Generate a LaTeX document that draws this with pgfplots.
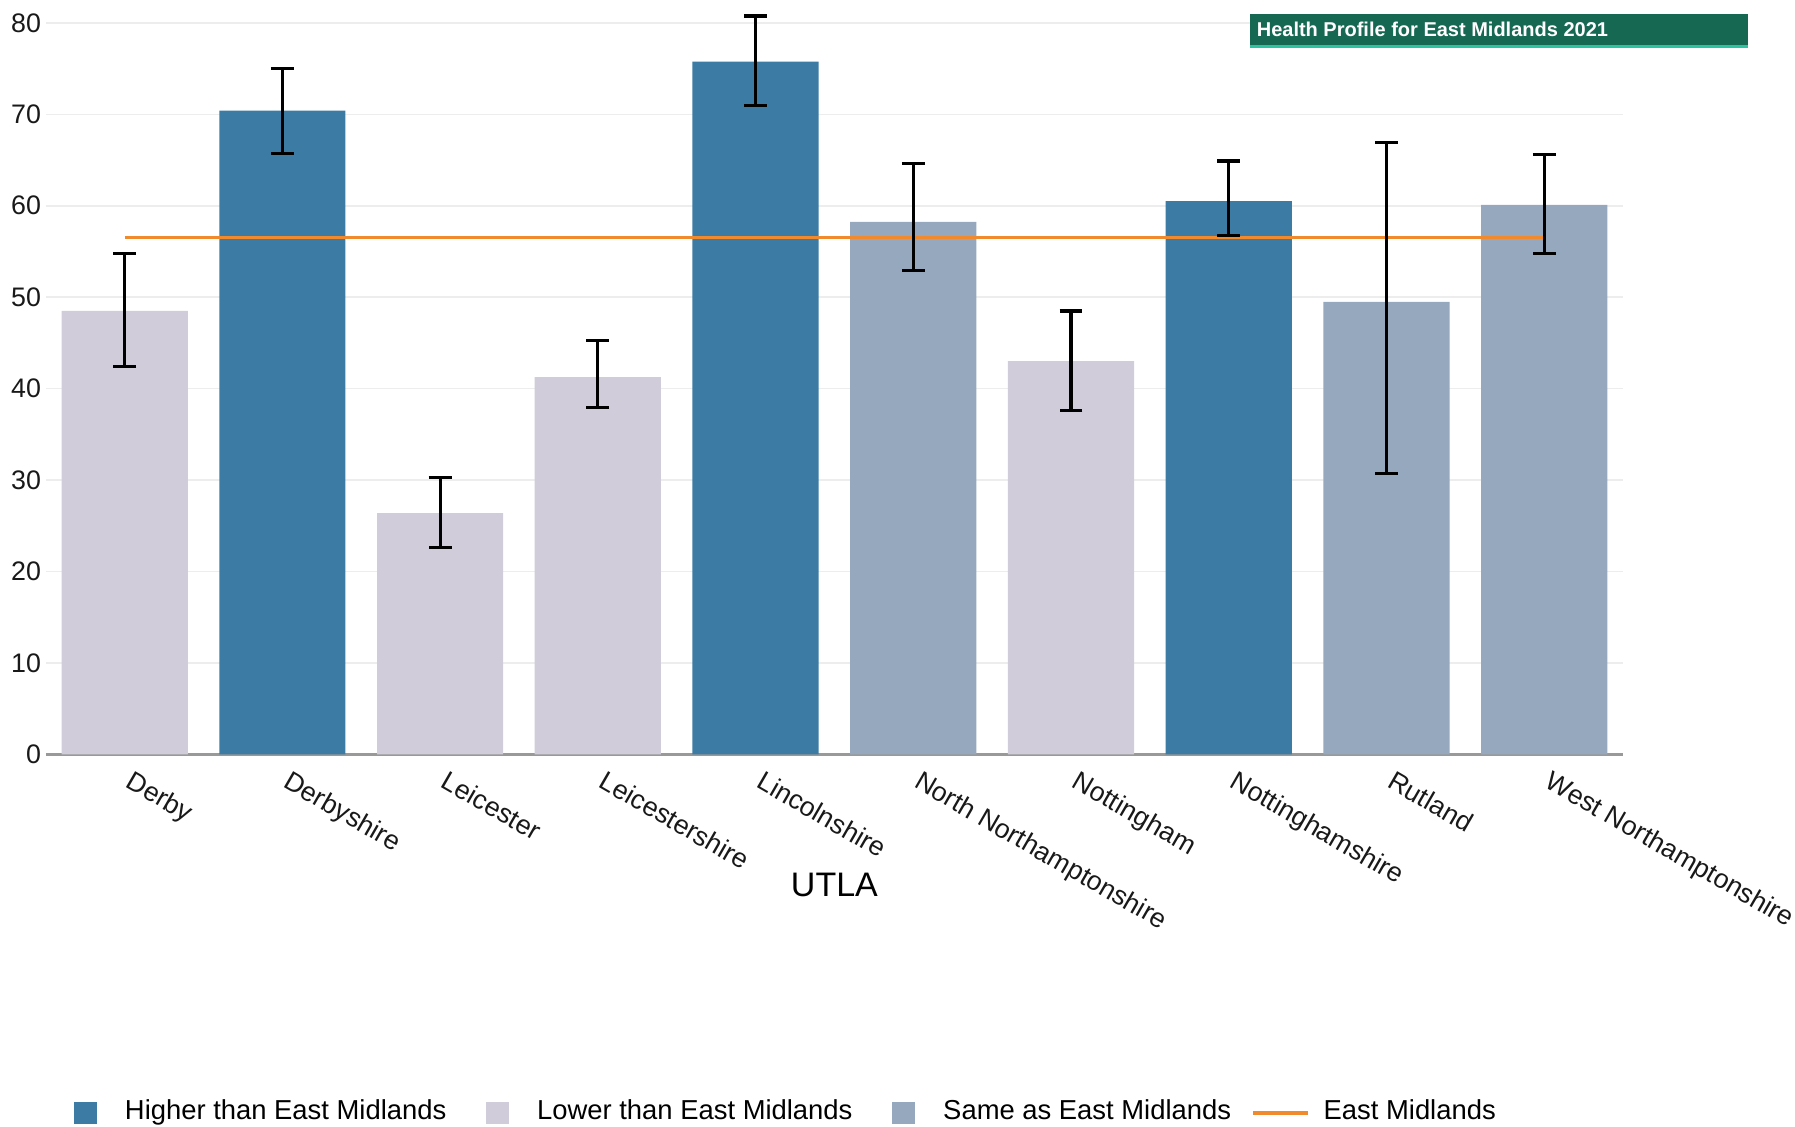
\documentclass[border=0pt]{standalone}
\usepackage{pgfplots}
\pgfplotsset{compat=1.18}
\usepackage{pgfplotstable}
\usepackage{fontspec}
\setmainfont{Liberation Sans}

\definecolor{higher}{RGB}{60,123,164}
\definecolor{lower}{RGB}{208,204,217}
\definecolor{same}{RGB}{150,168,190}
\definecolor{region}{RGB}{240,138,44}
\definecolor{headgreen}{RGB}{22,104,82}
\definecolor{headteal}{RGB}{44,196,160}

% x = category index, y = value, ep/em = upper/lower CI distance
\pgfplotstableread{
x y ep em
1 70.4 4.6 4.65
4 75.75 5.0 4.75
7 60.5 4.4 3.75
}\higherdata
\pgfplotstableread{
x y ep em
0 48.5 6.25 6.1
2 26.4 3.85 3.8
3 41.25 4.0 3.35
6 43.0 5.5 5.4
}\lowerdata
\pgfplotstableread{
x y ep em
5 58.25 6.35 5.35
8 49.5 17.4 18.75
9 60.1 5.5 5.35
}\samedata
\pgfplotstableread{
x y ep em
0 48.5 6.25 6.1
1 70.4 4.6 4.65
2 26.4 3.85 3.8
3 41.25 4.0 3.35
4 75.75 5.0 4.75
5 58.25 6.35 5.35
6 43.0 5.5 5.4
7 60.5 4.4 3.75
8 49.5 17.4 18.75
9 60.1 5.5 5.35
}\alldata

\begin{document}
\begin{tikzpicture}
\useasboundingbox (0,0) rectangle (448.75pt,281.5pt);
\begin{axis}[
  at={(11.45pt,92.9pt)}, anchor=south west,
  scale only axis,
  width=394.3pt, height=188.6pt,
  xmin=-0.5, xmax=9.5,
  ymin=0, ymax=82.5,
  ytick={0,10,...,80},
  xtick={0,...,9},
  xticklabels={Derby,Derbyshire,Leicester,Leicestershire,Lincolnshire,North Northamptonshire,Nottingham,Nottinghamshire,Rutland,West Northamptonshire},
  axis x line*=bottom,
  axis y line*=left,
  x axis line style={draw=black!40, line width=0.8pt, -},
  y axis line style={draw=none},
  tick style={draw=none},
  ymajorgrids,
  major grid style={draw=black!7, line width=0.4pt},
  /pgf/number format/assume math mode=true,
  tick label style={font=\fontsize{6.7}{8}\selectfont, text=black!90},
  yticklabel style={inner sep=0pt, xshift=-1pt},
  xticklabel style={rotate=-30, anchor=north west, inner sep=0pt, xshift=3.8pt, yshift=-2pt},
  xlabel={UTLA},
  xlabel style={font=\fontsize{8.5}{10}\selectfont, at={(axis description cs:0.5,0)}, anchor=center, yshift=-32.6pt},
  legend columns=4,
  legend style={at={(0,0)}, anchor=west, xshift=6.9pt, yshift=-89.65pt,
    draw=none, fill=none, inner sep=0pt,
    font=\fontsize{6.85}{8}\selectfont,
    nodes={inner sep=0pt},
    /tikz/every odd column/.append style={column sep=7pt},
    /tikz/every even column/.append style={column sep=10pt}},
  legend cell align=left,
]
\addplot[ybar, bar width=0.8, bar shift=0pt, fill=higher, draw=none,
  legend image code/.code={\fill[higher] (0pt,-2.85pt) rectangle (5.7pt,2.85pt);}]
  table[x=x, y=y] {\higherdata};
\addlegendentry{Higher than East Midlands}
\addplot[ybar, bar width=0.8, bar shift=0pt, fill=lower, draw=none,
  legend image code/.code={\fill[lower] (0pt,-2.85pt) rectangle (5.7pt,2.85pt);}]
  table[x=x, y=y] {\lowerdata};
\addlegendentry{Lower than East Midlands}
\addplot[ybar, bar width=0.8, bar shift=0pt, fill=same, draw=none,
  legend image code/.code={\fill[same] (0pt,-2.85pt) rectangle (5.7pt,2.85pt);}]
  table[x=x, y=y] {\samedata};
\addlegendentry{Same as East Midlands}
% East Midlands benchmark
\addplot[region, line width=0.85pt, mark=none,
  legend image code/.code={\path (0pt,0pt) -- (5.3pt,0pt);
    \draw[overlay, region, line width=0.85pt] (-4.9pt,0pt) -- (8.8pt,0pt);}]
  coordinates {(0,56.5) (9,56.5)};
\addlegendentry{East Midlands}
% confidence intervals on top
\addplot[forget plot, draw=none, mark=none,
  error bars/.cd, y dir=both, y explicit,
  error bar style={draw=black, line width=0.8pt},
  error mark options={draw=black, line width=0.8pt, mark size=2.85pt, rotate=90}]
  table[x=x, y=y, y error plus=ep, y error minus=em] {\alldata};
\end{axis}
% header banner
\fill[headgreen] (312.5pt,270.05pt) rectangle (437pt,278.1pt);
\fill[headteal] (312.5pt,269.6pt) rectangle (437pt,270.2pt);
\node[anchor=west, inner sep=0pt, text=white, font=\bfseries\fontsize{5.0}{6}\selectfont]
  at (314pt,274.2pt) {Health Profile for East Midlands 2021};
\end{tikzpicture}
\end{document}
